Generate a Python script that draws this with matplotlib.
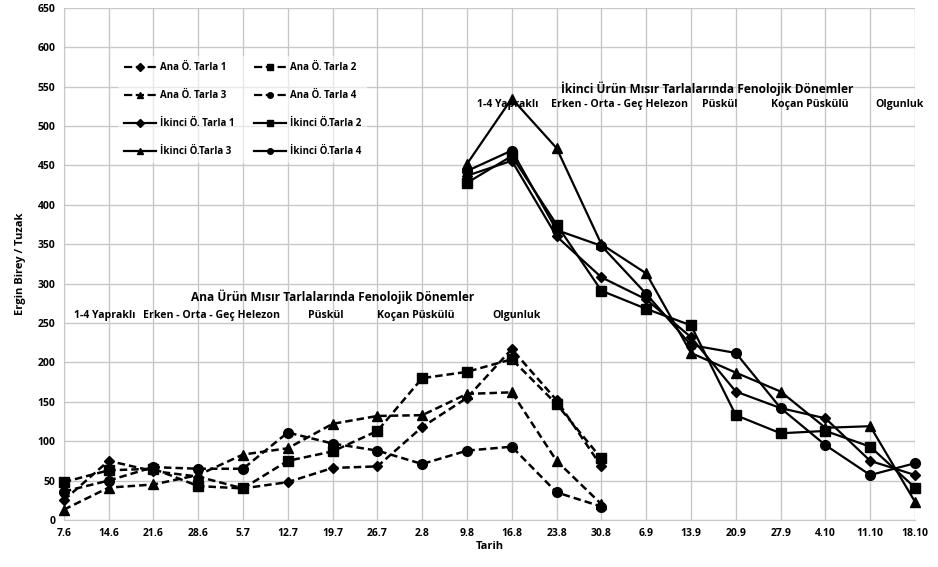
import matplotlib
matplotlib.use("Agg")
import matplotlib.pyplot as plt
from matplotlib.lines import Line2D

plt.rcParams['font.family'] = ['Open Sans', 'DejaVu Sans']

dates = ['7.6', '14.6', '21.6', '28.6', '5.7', '12.7', '19.7', '26.7', '2.8', '9.8',
         '16.8', '23.8', '30.8', '6.9', '13.9', '20.9', '27.9', '4.10', '11.10', '18.10']

# ana urun (first 13 dates)
ana1 = [25, 75, 62, 55, 40, 48, 66, 68, 118, 155, 217, 152, 68]
ana2 = [48, 63, 65, 43, 40, 75, 87, 113, 180, 188, 204, 147, 78]
ana3 = [13, 41, 45, 57, 83, 91, 122, 132, 133, 160, 162, 75, 20]
ana4 = [36, 50, 67, 65, 65, 111, 97, 88, 71, 88, 93, 35, 17]

# ikinci urun (from 9.8 on)
ik1 = [437, 456, 360, 308, 280, 232, 163, 142, 129, 75, 57]
ik2 = [428, 462, 375, 291, 268, 247, 133, 110, 113, 93, 41]
ik3 = [452, 535, 472, 350, 313, 212, 187, 163, 117, 119, 23]
ik4 = [443, 469, 368, 348, 287, 222, 212, 142, 95, 57, 72]

ana_labels = ['Ana Ö. Tarla 1', 'Ana Ö. Tarla 2', 'Ana Ö. Tarla 3', 'Ana Ö. Tarla 4']
ik_labels = ['İkinci Ö. Tarla 1', 'İkinci Ö.Tarla 2', 'İkinci Ö.Tarla 3', 'İkinci Ö.Tarla 4']
markers = ['D', 's', '^', 'o']
msizes = [5, 6.5, 6.5, 7]

fig = plt.figure(figsize=(9.38, 5.67), dpi=100)
ax = fig.add_axes([0.068, 0.083, 0.9075, 0.903])

x_ana = list(range(len(ana1)))
x_ik = list(range(9, 9 + len(ik1)))

handles = {}
for lab, ys, m, ms in zip(ana_labels, [ana1, ana2, ana3, ana4], markers, msizes):
    h, = ax.plot(x_ana, ys, color='black', ls=(0, (3, 1.6)), lw=1.8, marker=m,
                 ms=ms, label=lab, clip_on=False, zorder=3)
    handles[lab] = h
for lab, ys, m, ms in zip(ik_labels, [ik1, ik2, ik3, ik4], markers, msizes):
    h, = ax.plot(x_ik, ys, color='black', ls='-', lw=1.6, marker=m,
                 ms=ms, label=lab, clip_on=False, zorder=3)
    handles[lab] = h

ax.set_xlim(0, 19)
ax.set_ylim(0, 650)
ax.set_yticks(range(0, 651, 50))
ax.set_xticks(range(len(dates)))
ax.set_xticklabels(dates)
ax.grid(True, color='#c8c8c8', lw=1)
ax.set_axisbelow(True)
ax.tick_params(length=0, labelsize=7.5, pad=6)
for t in ax.get_xticklabels() + ax.get_yticklabels():
    t.set_fontweight('bold')
for s in ['top', 'right']:
    ax.spines[s].set_visible(False)
ax.spines['left'].set_color('#c8c8c8')
ax.spines['bottom'].set_color('#c8c8c8')

ax.set_xlabel('Tarih', fontsize=8, fontweight='bold', labelpad=1)
ax.set_ylabel('Ergin Birey / Tuzak', fontsize=8, fontweight='bold', labelpad=8)

# phenology annotations
tk = dict(fontsize=7.6, fontweight='bold', ha='center', va='center')
ax.text(6.0, 283, 'Ana Ürün Mısır Tarlalarında Fenolojik Dönemler', fontsize=8.6,
        fontweight='bold', ha='center', va='center')
ax.text(0.92, 259, '1-4 Yapraklı', **tk)
ax.text(3.3, 259, 'Erken - Orta - Geç Helezon', **tk)
ax.text(5.85, 259, 'Püskül', **tk)
ax.text(7.85, 259, 'Koçan Püskülü', **tk)
ax.text(10.1, 259, 'Olgunluk', **tk)

ax.text(14.35, 548, 'İkinci Ürün Mısır Tarlalarında Fenolojik Dönemler', fontsize=8.6,
        fontweight='bold', ha='center', va='center')
ax.text(9.9, 528, '1-4 Yapraklı', **tk)
ax.text(12.4, 528, 'Erken - Orta - Geç Helezon', **tk)
ax.text(14.65, 528, 'Püskül', **tk)
ax.text(16.65, 528, 'Koçan Püskülü', **tk)
ax.text(18.65, 528, 'Olgunluk', **tk)

order = [ana_labels[0], ana_labels[2], ik_labels[0], ik_labels[2],
         ana_labels[1], ana_labels[3], ik_labels[1], ik_labels[3]]
leg_handles = []
for lab in order:
    h = handles[lab]
    leg_handles.append(Line2D([], [], color='black', ls=h.get_linestyle(), lw=1.6,
                              marker=h.get_marker(), ms=4))
leg = ax.legend(leg_handles, order, ncol=2, loc='upper left', bbox_to_anchor=(0.058, 0.915),
                frameon=True, fontsize=7, handlelength=3.3, handletextpad=0.4,
                columnspacing=2.0, labelspacing=1.75, borderpad=0.6)
leg.get_frame().set_edgecolor('none')
leg.get_frame().set_facecolor('white')
leg.get_frame().set_alpha(0.6)
for t in leg.get_texts():
    t.set_fontweight('bold')

fig.savefig('out.png', dpi=100)
